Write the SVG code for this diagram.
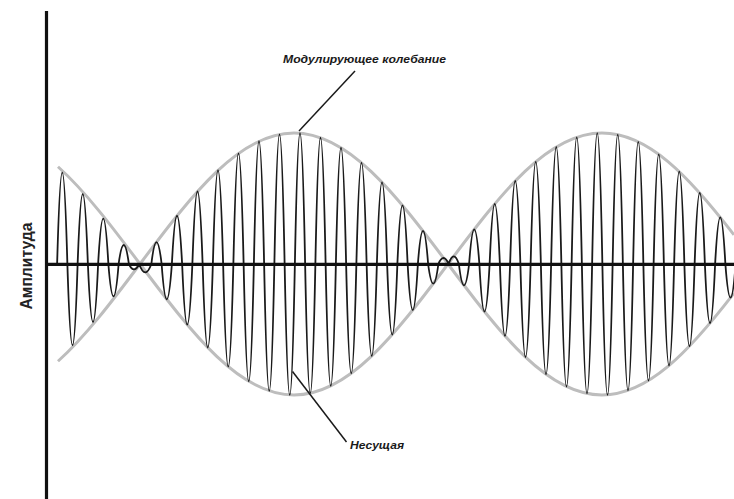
<svg xmlns="http://www.w3.org/2000/svg" width="734" height="499" viewBox="0 0 734 499">
<style>
.env{fill:none;stroke:#bdbdbd;stroke-width:3}
.car{fill:none;stroke:#1a1a1a;stroke-width:1.8;stroke-linejoin:round}
.axis{fill:none;stroke:#111;stroke-width:3.2}
.lead{fill:none;stroke:#1a1a1a;stroke-width:1.5}
.lbl{font-family:"Liberation Sans",Arial,sans-serif;font-weight:bold;font-style:italic;font-size:11.5px;fill:#1a1a1a}
.ylbl{font-family:"Liberation Sans",Arial,sans-serif;font-weight:bold;font-size:17px;fill:#222}
</style>
<rect width="734" height="499" fill="#fff"/>
<g id="envelope">
<path class="env" d="M 58 166.75 C 85.33 191.23 112.67 227.48 140 264 C 194.15 336.35 239.85 395 294 395 C 348.15 395 393.85 336.35 448 264 C 502.15 191.65 547.85 133 602 133 C 647.8 133 688.2 175.18 734 234.84"/>
<path class="env" d="M 58 361.25 C 85.33 336.77 112.67 300.52 140 264 C 194.15 191.65 239.85 133 294 133 C 348.15 133 393.850 191.65 448 264 C 502.15 336.35 547.85 395 602 395 C 647.8 395 688.2 352.82 734 293.16"/>
</g>
<g id="carrier">
<path class="car" d="M 57.125 264 Q 62.25 81.1 67.375 264 Q 72.5 426.3 77.625 264 Q 82.75 124.0 87.875 264 Q 93 380.1 98.125 264 Q 103.25 173.1 108.375 264 Q 113.5 328.8 118.625 264 Q 123.75 226.0 128.875 264 Q 134 274.7 139.125 264 Q 145.25 280.7 151.375 264 Q 156.5 220.1 161.625 264 Q 166.75 334.6 171.875 264 Q 177 167.5 182.125 264 Q 187.25 385.4 192.375 264 Q 197.5 119.0 202.625 264 Q 207.75 431.0 212.875 264 Q 218 76.8 223.125 264 Q 228.25 469.3 233.375 264 Q 238.5 42.9 243.625 264 Q 248.75 498.6 253.875 264 Q 259 18.5 264.125 264 Q 269.25 517.7 274.375 264 Q 279.5 4.9 284.625 264 Q 289.75 525.8 294.875 264 Q 300 2.5 305.125 264 Q 310.25 522.4 315.375 264 Q 320.5 11.5 325.625 264 Q 330.75 507.8 335.875 264 Q 341 31.5 346.125 264 Q 351.25 482.6 356.375 264 Q 361.5 61.8 366.625 264 Q 371.75 447.8 376.875 264 Q 382 100.6 387.125 264 Q 392.25 405.1 397.375 264 Q 402.5 146.7 407.625 264 Q 412.75 356.2 417.875 264 Q 423 197.9 428.125 264 Q 433.25 303.3 438.375 264 Q 443.5 252.0 448.625 264 Q 453.75 248.6 458.875 264 Q 464 306.6 469.125 264 Q 474.25 194.7 479.375 264 Q 484.5 359.3 489.625 264 Q 494.75 143.7 499.875 264 Q 505 407.9 510.125 264 Q 515.25 98.0 520.375 264 Q 525.5 450.2 530.625 264 Q 535.75 59.6 540.875 264 Q 546 484.4 551.125 264 Q 556.25 30.0 561.375 264 Q 566.5 509.0 571.625 264 Q 576.75 10.6 581.875 264 Q 587 522.9 592.125 264 Q 597.25 2.3 602.375 264 Q 607.5 525.6 612.625 264 Q 617.75 5.4 622.875 264 Q 628 516.8 633.125 264 Q 638.25 19.7 643.375 264 Q 648.5 497.1 653.625 264 Q 658.75 44.7 663.875 264 Q 669 467.1 674.125 264 Q 679.25 79.2 684.375 264 Q 689.5 428.4 694.625 264 Q 699.75 121.8 704.875 264 Q 710 382.5 715.125 264 Q 720.25 170.6 725.375 264 Q 730.5 331.4 735.625 264"/>
</g>
<g id="axes">
<line class="axis" x1="46.5" y1="11" x2="46.5" y2="499"/>
<line class="axis" x1="45" y1="264.3" x2="734" y2="264.3"/>
</g>
<g id="connectors">
<line class="lead" x1="355" y1="71" x2="299" y2="131"/>
<line class="lead" x1="346.5" y1="442" x2="292.5" y2="371.5"/>
</g>
<g id="label-modulating">
<text class="lbl" x="283" y="63" textLength="163" lengthAdjust="spacingAndGlyphs">Модулирующее колебание</text>
</g>
<g id="label-carrier">
<text class="lbl" x="350" y="449" textLength="54" lengthAdjust="spacingAndGlyphs">Несущая</text>
</g>
<g id="label-amplitude">
<text class="ylbl" transform="translate(32 266) rotate(-90)" text-anchor="middle" textLength="87" lengthAdjust="spacingAndGlyphs">Амплитуда</text>
</g>
</svg>
